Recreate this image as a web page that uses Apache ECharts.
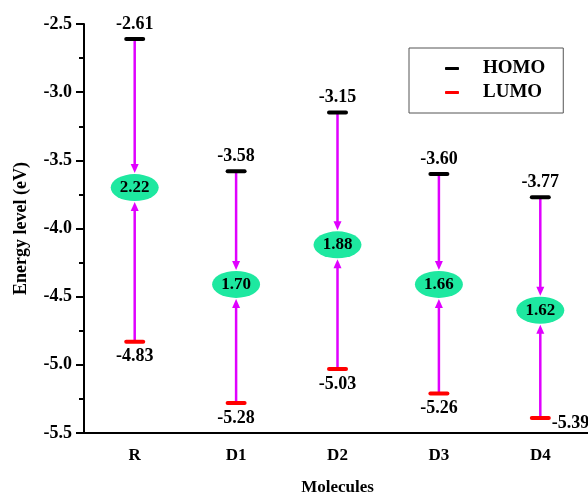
<!DOCTYPE html>
<html>
<head>
<meta charset="utf-8">
<script src="https://cdn.jsdelivr.net/npm/echarts@6/dist/echarts.min.js"></script>
<style>html,body{margin:0;padding:0;background:#fff}#c{width:588px;height:494px}</style>
</head>
<body>
<div id="c"></div>
<script>
var categories = ['R', 'D1', 'D2', 'D3', 'D4'];
var homo = [-2.61, -3.58, -3.15, -3.60, -3.77];
var lumo = [-4.83, -5.28, -5.03, -5.21, -5.39];
var homoLabels = ['-2.61', '-3.58', '-3.15', '-3.60', '-3.77'];
var lumoLabels = ['-4.83', '-5.28', '-5.03', '-5.26', '-5.39'];
var gapLabels = ['2.22', '1.70', '1.88', '1.66', '1.62'];
var gapCenter = [-3.70, -4.41, -4.12, -4.41, -4.60];
var yTicks = { min: -5.5, max: -2.5, interval: 0.5 };

var FONT = '"Liberation Serif", "Times New Roman", serif';
var MAGENTA = '#E000FF';
var GREEN = '#1EE8A0';

var chart = echarts.init(document.getElementById('c'), null, { renderer: 'canvas' });

function levelSeries(name, values, labels, color, below) {
  return {
    name: name,
    type: 'custom',
    z: 5,
    data: values.map(function (v, i) { return [i, v]; }),
    encode: { x: 0, y: 1 },
    renderItem: function (params, api) {
      var p = api.coord([api.value(0), api.value(1)]);
      var half = 10.5;
      var txt = labels[params.dataIndex];
      var axisBottom = params.coordSys.y + params.coordSys.height;
      var labelEl;
      if (below && axisBottom - p[1] < 25) {
        labelEl = { type: 'text', style: { x: p[0] + half + 1, y: p[1] + 5, text: txt, fill: '#000',
          font: 'bold 18px ' + FONT, textAlign: 'left', textVerticalAlign: 'middle' } };
      } else {
        labelEl = { type: 'text', style: { x: p[0], y: p[1] + (below ? 15 : -15), text: txt, fill: '#000',
          font: 'bold 18px ' + FONT, textAlign: 'center', textVerticalAlign: 'middle' } };
      }
      return {
        type: 'group',
        children: [
          { type: 'line', shape: { x1: p[0] - half + 2, y1: p[1], x2: p[0] + half - 2, y2: p[1] },
            style: { stroke: color, lineWidth: 4, lineCap: 'round' } },
          labelEl
        ]
      };
    }
  };
}

var gapSeries = {
  name: 'gap',
  type: 'custom',
  z: 3,
  data: categories.map(function (c, i) { return [i, homo[i], lumo[i], gapCenter[i]]; }),
  encode: { x: 0, y: [1, 2, 3] },
  renderItem: function (params, api) {
    var i = api.value(0);
    var pH = api.coord([i, api.value(1)]);
    var pL = api.coord([i, api.value(2)]);
    var pC = api.coord([i, api.value(3)]);
    var x = pC[0];
    var rx = 24, ry = 13.5, head = 9, hw = 4;
    var tipTop = pC[1] - ry - 1;
    var tipBot = pC[1] + ry + 1;
    return {
      type: 'group',
      children: [
        { type: 'line', shape: { x1: x, y1: pH[1], x2: x, y2: tipTop - head + 1 },
          style: { stroke: MAGENTA, lineWidth: 2.5 } },
        { type: 'polygon', shape: { points: [[x, tipTop], [x - hw, tipTop - head], [x + hw, tipTop - head]] },
          style: { fill: MAGENTA } },
        { type: 'line', shape: { x1: x, y1: pL[1], x2: x, y2: tipBot + head - 1 },
          style: { stroke: MAGENTA, lineWidth: 2.5 } },
        { type: 'polygon', shape: { points: [[x, tipBot], [x - hw, tipBot + head], [x + hw, tipBot + head]] },
          style: { fill: MAGENTA } },
        { type: 'circle', x: x, y: pC[1], scaleX: rx / ry, scaleY: 1,
          shape: { cx: 0, cy: 0, r: ry }, style: { fill: GREEN } },
        { type: 'text', style: { x: x, y: pC[1], text: gapLabels[params.dataIndex], fill: '#000',
          font: 'bold 17px ' + FONT, textAlign: 'center', textVerticalAlign: 'middle' } }
      ]
    };
  }
};

chart.setOption({
  animation: false,
  backgroundColor: '#fff',
  grid: { left: 84, right: -3, top: 24, bottom: 61, containLabel: false, outerBoundsMode: 'none' },
  legend: {
    orient: 'vertical',
    left: 409, top: 48,
    padding: [11, 18, 11, 36],
    itemWidth: 14, itemHeight: 3, itemGap: 5,
    icon: 'roundRect',
    borderColor: '#555', borderWidth: 1,
    selectedMode: false,
    textStyle: { fontFamily: FONT, fontWeight: 'bold', fontSize: 19, color: '#000', padding: [0, 0, 0, 19], lineHeight: 19 },
    data: [
      { name: 'HOMO', itemStyle: { color: '#000' } },
      { name: 'LUMO', itemStyle: { color: '#FF0000' } }
    ]
  },
  xAxis: {
    type: 'category',
    data: categories,
    boundaryGap: true,
    name: 'Molecules',
    nameLocation: 'middle',
    nameGap: 46,
    nameTextStyle: { fontFamily: FONT, fontWeight: 'bold', fontSize: 17, color: '#000' },
    axisLine: { lineStyle: { color: '#000', width: 2 } },
    axisTick: { alignWithLabel: true, length: 7, lineStyle: { color: '#000', width: 2 } },
    axisLabel: { margin: 14, fontFamily: FONT, fontWeight: 'bold', fontSize: 17, color: '#000' },
    splitLine: { show: false }
  },
  yAxis: {
    type: 'value',
    min: yTicks.min, max: yTicks.max, interval: yTicks.interval,
    name: 'Energy level (eV)',
    nameLocation: 'middle',
    nameRotate: 90,
    nameGap: 54,
    nameTextStyle: { fontFamily: FONT, fontWeight: 'bold', fontSize: 18, color: '#000' },
    axisLine: { show: true, lineStyle: { color: '#000', width: 2 } },
    axisTick: { show: true, length: 8, lineStyle: { color: '#000', width: 2 } },
    minorTick: { show: true, splitNumber: 2, length: 5, lineStyle: { color: '#000', width: 2 } },
    axisLabel: { margin: 12, fontFamily: FONT, fontWeight: 'bold', fontSize: 18, color: '#000',
      formatter: function (v) { return v.toFixed(1); } },
    splitLine: { show: false }
  },
  series: [
    gapSeries,
    levelSeries('HOMO', homo, homoLabels, '#000', false),
    levelSeries('LUMO', lumo, lumoLabels, '#FF0000', true)
  ]
});
</script>
</body>
</html>
